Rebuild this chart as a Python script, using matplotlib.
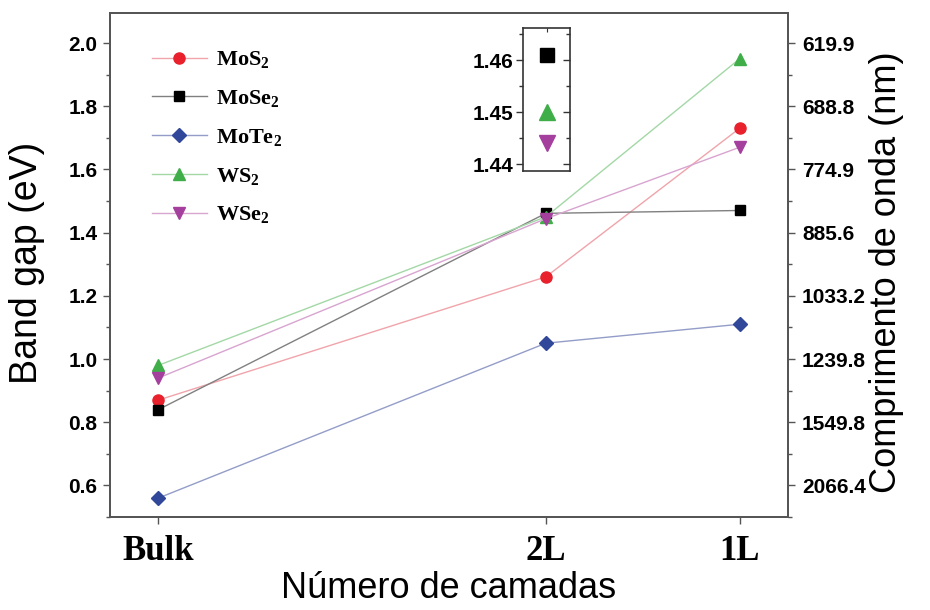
import matplotlib
matplotlib.use("Agg")
import matplotlib.pyplot as plt
from matplotlib.ticker import MultipleLocator, FixedLocator, FuncFormatter

plt.rcParams['font.family'] = ['Liberation Sans', 'DejaVu Sans']
plt.rcParams['mathtext.fontset'] = 'custom'
plt.rcParams['mathtext.rm'] = 'Liberation Serif:bold'
plt.rcParams['mathtext.bf'] = 'Liberation Serif:bold'
plt.rcParams['mathtext.default'] = 'bf'

# layer positions: bulk, bilayer, monolayer
layers = ['Bulk', '2L', '1L']
layer_x = [0, 2, 3]

# band gaps in eV
mos2 = [0.87, 1.26, 1.73]
mose2 = [0.84, 1.461, 1.47]
mote2 = [0.56, 1.05, 1.11]
ws2 = [0.98, 1.450, 1.95]
wse2 = [0.94, 1.444, 1.67]

names = ['MoS$_2$', 'MoSe$_2$', 'MoTe$_2$', 'WS$_2$', 'WSe$_2$']
series = [mos2, mose2, mote2, ws2, wse2]
markers = ['o', 's', 'D', '^', 'v']
sizes = [8, 7, 7.5, 8.5, 8.5]
mcolors = ['#e8212c', '#000000', '#31479a', '#3fae49', '#a43f9d']
lcolors = ['#f0a4ab', '#808080', '#939dc8', '#a3d8a6', '#d8a4d0']

hc = 1239.84  # eV*nm
spine_col = '#555555'
tick_font = dict(family='Liberation Sans', weight='bold', size=15)

fig = plt.figure(figsize=(9.3, 6.1), dpi=100)
ax = fig.add_axes([110/930, 1-517/610, 678/930, 504/610])

for name, vals, m, ms, mc, lc in zip(names, series, markers, sizes, mcolors, lcolors):
    ax.plot(layer_x, vals, '-', color=lc, lw=1.0, marker=m, ms=ms,
            mfc=mc, mec=mc, label=name)

ax.set_xlim(-0.25, 3.25)
ax.set_ylim(0.5, 2.095)
ax.set_xticks(layer_x)
ax.set_xticklabels(layers, family='Liberation Serif', weight='bold', fontsize=25)
ax.yaxis.set_major_locator(MultipleLocator(0.2))
ax.yaxis.set_minor_locator(MultipleLocator(0.1))
ax.yaxis.set_major_formatter(FuncFormatter(lambda v, p: '%.1f' % v))
for lab in ax.get_yticklabels():
    lab.set(**tick_font)
ax.tick_params(axis='y', which='major', direction='out', length=5, width=1,
               color=spine_col, pad=4)
ax.tick_params(axis='y', which='minor', direction='out', length=3, width=1, color=spine_col)
ax.tick_params(axis='x', direction='out', length=5, width=1, color=spine_col, pad=8)
for s in ax.spines.values():
    s.set_color(spine_col)
    s.set_linewidth(1.3)

ax.set_xlabel('Número de camadas', fontsize=26, va='center')
ax.xaxis.set_label_coords(0.5, -0.141)
ax.set_ylabel('Band gap (eV)', fontsize=27, va='center')
ax.yaxis.set_label_coords(-0.122, 0.505)

# wavelength axis on the right
ax2 = ax.twinx()
ax2.set_ylim(ax.get_ylim())
ax2.yaxis.set_major_locator(FixedLocator(ax.get_yticks()))
ax2.yaxis.set_minor_locator(MultipleLocator(0.1))
ax2.yaxis.set_major_formatter(FuncFormatter(lambda v, p: '%.1f' % (hc / v)))
ax2.tick_params(axis='y', which='major', direction='out', length=5, width=1,
                color=spine_col, pad=5)
ax2.tick_params(axis='y', which='minor', direction='out', length=3, width=1, color=spine_col)
for lab in ax2.get_yticklabels():
    lab.set(**tick_font)
for s in ax2.spines.values():
    s.set_color(spine_col)
    s.set_linewidth(1.3)
ax2.set_ylabel('Comprimento de onda (nm)', fontsize=26, va='center', rotation=90)
ax2.yaxis.set_label_coords(1.146, 0.485)

leg = ax.legend(loc='upper left', bbox_to_anchor=(0.045, 0.95), frameon=False,
                prop={'family': 'Liberation Serif', 'weight': 'bold', 'size': 16},
                handlelength=2.5, handletextpad=0.4,
                labelspacing=0.8, borderpad=0)

# zoom on the bilayer values that overlap
ins = fig.add_axes([523/930, 1-171/610, 47/930, 143/610])
for i in (1, 3, 4):
    ins.plot([0], [series[i][1]], linestyle='none', marker=markers[i],
             ms=sizes[i] + 2.5, mfc=mcolors[i], mec=mcolors[i])
ins.set_xlim(-1, 1)
ins.set_ylim(1.4387, 1.4662)
ins.yaxis.set_major_locator(MultipleLocator(0.01))
ins.yaxis.set_minor_locator(MultipleLocator(0.005))
ins.yaxis.set_major_formatter(FuncFormatter(lambda v, p: '%.2f' % v))
ins.set_xticks([0])
ins.tick_params(axis='x', bottom=False, labelbottom=False, top=True,
                direction='in', length=3, color='#333333')
ins.tick_params(axis='y', which='major', left=True, right=True, direction='out',
                length=5, width=1, color='#333333', labelsize=15, pad=2)
ins.tick_params(axis='y', which='minor', left=True, right=True, direction='out',
                length=3, width=1, color='#333333')
for lab in ins.get_yticklabels():
    lab.set_fontweight('bold')
for s in ins.spines.values():
    s.set_color('#333333')
    s.set_linewidth(1.2)

# right-hand ticks of the inset point inward
for t in ins.yaxis.get_major_ticks() + ins.yaxis.get_minor_ticks():
    t.tick2line.set_marker(matplotlib.lines.TICKLEFT)

fig.savefig('out.png', dpi=100)
